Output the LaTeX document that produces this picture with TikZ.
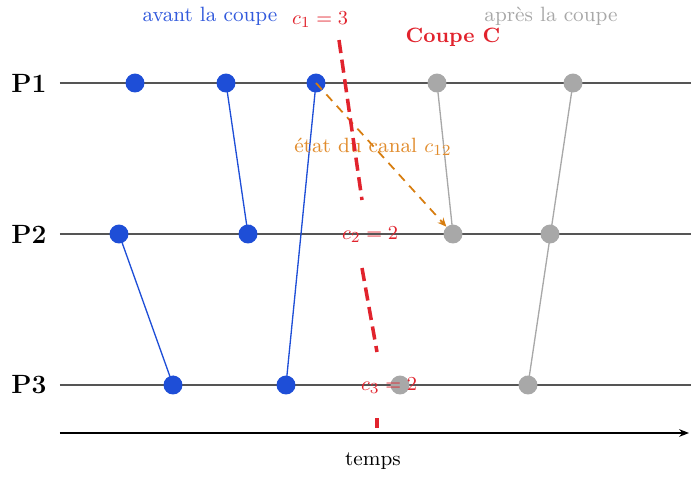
\documentclass[tikz,border=0pt]{standalone}
\usetikzlibrary{arrows.meta}
\definecolor{evblue}{RGB}{30,78,215}
\definecolor{lblblue}{RGB}{50,90,220}
\definecolor{evgray}{RGB}{168,168,168}
\definecolor{cutred}{RGB}{225,35,45}
\definecolor{chorange}{RGB}{215,125,15}
\definecolor{lblorange}{RGB}{225,140,45}
\definecolor{procline}{RGB}{85,85,85}
\tikzset{
  x=0.4545pt, y=-0.4545pt,
  txt/.style={font=\fontsize{9.4pt}{11pt}\selectfont},
  procstyle/.style={draw=procline, line width=0.75pt},
  plabel/.style={font=\large\bfseries, inner sep=0pt},
  bdot/.style={circle, fill=evblue, inner sep=0pt, minimum size=8.6pt},
  gdot/.style={circle, fill=evgray, inner sep=0pt, minimum size=8.6pt},
  bmsg/.style={draw=evblue, line width=0.6pt, -{Stealth[length=4pt,width=3.5pt]}},
  gmsg/.style={draw=evgray, line width=0.6pt, -{Stealth[length=4pt,width=3.5pt]}},
  chmsg/.style={draw=chorange, line width=0.8pt, dash pattern=on 4pt off 3pt, -{Stealth[length=4pt,width=3.5pt]}},
  cutline/.style={draw=cutred, line width=1.6pt, dash pattern=on 6pt off 3pt},
  cutlbl/.style={txt, text=cutred, inner sep=1pt},
}
\begin{document}
\begin{tikzpicture}
\useasboundingbox (0,0) rectangle (691,499);
% process labels and lines
\node[plabel] (p1) at (29,83) {P1};
\node[plabel] (p2) at (29,234) {P2};
\node[plabel] (p3) at (29,385) {P3};
\coordinate (l1s) at (60,83);  \coordinate (l1e) at (691,83);
\coordinate (l2s) at (60,234); \coordinate (l2e) at (691,234);
\coordinate (l3s) at (60,385); \coordinate (l3e) at (691,385);
\draw[procstyle] (l1s) -- (l1e);
\draw[procstyle] (l2s) -- (l2e);
\draw[procstyle] (l3s) -- (l3e);
% time axis
\coordinate (ts) at (60,433); \coordinate (te) at (689,433);
\draw[line width=0.6pt, -{Stealth[length=4.5pt,width=3.5pt]}] (ts) -- (te);
\node[txt] (temps) at (373,461) {temps};
% events
\coordinate (a1) at (135,83);
\coordinate (a2) at (226,83);
\coordinate (a3) at (316,83);
\coordinate (a4) at (437,83);
\coordinate (a5) at (573,83);
\coordinate (b1) at (119,234);
\coordinate (b2) at (248,234);
\coordinate (b3) at (453,234);
\coordinate (b4) at (550,234);
\coordinate (c1) at (173,385);
\coordinate (c2) at (286,385);
\coordinate (c3) at (400,385);
\coordinate (c4) at (528,385);
% messages
\draw[bmsg] (a2) -- (b2);
\draw[bmsg] (c2) -- (a3);
\draw[bmsg] (b1) -- (c1);
\draw[gmsg] (b3) -- (a4);
\draw[gmsg] (a5) -- (c4);
% dots
\foreach \e in {a1,a2,a3,b1,b2,c1,c2} \node[bdot] (d\e) at (\e) {};
\foreach \e in {a4,a5,b3,b4,c3,c4} \node[gdot] (d\e) at (\e) {};
\draw[chmsg] (a3) -- (db3);
% labels
\node[txt, text=lblblue] (avant) at (210,16) {avant la coupe};
\node[txt, text=evgray] (apres) at (551,16) {après la coupe};
\node[txt, text=cutred, font=\fontsize{9.4pt}{11pt}\selectfont\bfseries] (coupe) at (453,37) {Coupe C};
\node[txt, text=lblorange] (etat) at (373,147) {état du canal $c_{12}$};
% cut
\coordinate (k1) at (339,40);  \coordinate (k2) at (362,200);
\coordinate (k3) at (362,268); \coordinate (k4) at (377,352);
\coordinate (k5) at (377,418); \coordinate (k6) at (377,428);
\draw[cutline] (k1) -- (k2);
\draw[cutline] (k3) -- (k4);
\draw[cutline] (k5) -- (k6);
\node[cutlbl] (lc1) at (320,20) {$c_1 = 3$};
\node[cutlbl] (lc2) at (370,235) {$c_2 = 2$};
\node[cutlbl] (lc3) at (389,386) {$c_3 = 2$};
\end{tikzpicture}
\end{document}
